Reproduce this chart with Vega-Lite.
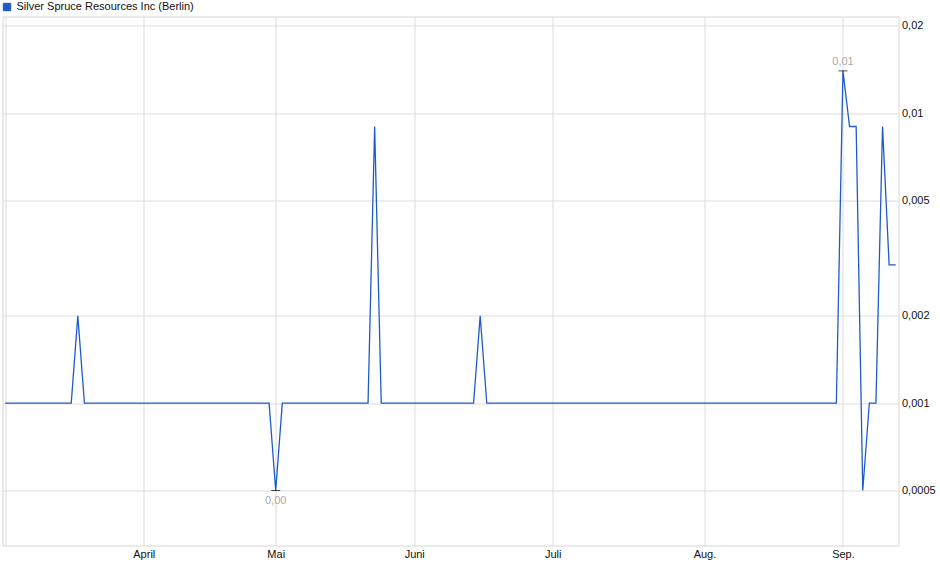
{
  "$schema": "https://vega.github.io/schema/vega-lite/v6.json",
  "autosize": "none",
  "width": 896,
  "height": 529,
  "padding": {"left": 2.5, "top": 16.5, "right": 41.5, "bottom": 33.5},
  "background": "white",
  "data": {
    "values": [
      {"d": "2025-03-03", "v": 0.001}, {"d": "2025-03-04", "v": 0.001}, {"d": "2025-03-05", "v": 0.001},
      {"d": "2025-03-06", "v": 0.001}, {"d": "2025-03-07", "v": 0.001}, {"d": "2025-03-10", "v": 0.001},
      {"d": "2025-03-11", "v": 0.001}, {"d": "2025-03-12", "v": 0.001}, {"d": "2025-03-13", "v": 0.001},
      {"d": "2025-03-14", "v": 0.001}, {"d": "2025-03-17", "v": 0.001}, {"d": "2025-03-18", "v": 0.002},
      {"d": "2025-03-19", "v": 0.001}, {"d": "2025-03-20", "v": 0.001}, {"d": "2025-03-21", "v": 0.001},
      {"d": "2025-03-24", "v": 0.001}, {"d": "2025-03-25", "v": 0.001}, {"d": "2025-03-26", "v": 0.001},
      {"d": "2025-03-27", "v": 0.001}, {"d": "2025-03-28", "v": 0.001}, {"d": "2025-03-31", "v": 0.001},
      {"d": "2025-04-01", "v": 0.001}, {"d": "2025-04-02", "v": 0.001}, {"d": "2025-04-03", "v": 0.001},
      {"d": "2025-04-04", "v": 0.001}, {"d": "2025-04-07", "v": 0.001}, {"d": "2025-04-08", "v": 0.001},
      {"d": "2025-04-09", "v": 0.001}, {"d": "2025-04-10", "v": 0.001}, {"d": "2025-04-11", "v": 0.001},
      {"d": "2025-04-14", "v": 0.001}, {"d": "2025-04-15", "v": 0.001}, {"d": "2025-04-16", "v": 0.001},
      {"d": "2025-04-17", "v": 0.001}, {"d": "2025-04-22", "v": 0.001}, {"d": "2025-04-23", "v": 0.001},
      {"d": "2025-04-24", "v": 0.001}, {"d": "2025-04-25", "v": 0.001}, {"d": "2025-04-28", "v": 0.001},
      {"d": "2025-04-29", "v": 0.001}, {"d": "2025-04-30", "v": 0.001},
      {"d": "2025-05-02", "v": 0.0005}, {"d": "2025-05-05", "v": 0.001}, {"d": "2025-05-06", "v": 0.001},
      {"d": "2025-05-07", "v": 0.001}, {"d": "2025-05-08", "v": 0.001}, {"d": "2025-05-09", "v": 0.001},
      {"d": "2025-05-12", "v": 0.001}, {"d": "2025-05-13", "v": 0.001}, {"d": "2025-05-14", "v": 0.001},
      {"d": "2025-05-15", "v": 0.001}, {"d": "2025-05-16", "v": 0.001}, {"d": "2025-05-19", "v": 0.001},
      {"d": "2025-05-20", "v": 0.001}, {"d": "2025-05-21", "v": 0.001}, {"d": "2025-05-22", "v": 0.001},
      {"d": "2025-05-23", "v": 0.009}, {"d": "2025-05-26", "v": 0.001}, {"d": "2025-05-27", "v": 0.001},
      {"d": "2025-05-28", "v": 0.001}, {"d": "2025-05-29", "v": 0.001}, {"d": "2025-05-30", "v": 0.001},
      {"d": "2025-06-02", "v": 0.001}, {"d": "2025-06-03", "v": 0.001}, {"d": "2025-06-04", "v": 0.001},
      {"d": "2025-06-05", "v": 0.001}, {"d": "2025-06-06", "v": 0.001}, {"d": "2025-06-09", "v": 0.001},
      {"d": "2025-06-10", "v": 0.001}, {"d": "2025-06-11", "v": 0.001}, {"d": "2025-06-12", "v": 0.001},
      {"d": "2025-06-13", "v": 0.001}, {"d": "2025-06-16", "v": 0.002}, {"d": "2025-06-17", "v": 0.001},
      {"d": "2025-06-18", "v": 0.001}, {"d": "2025-06-19", "v": 0.001}, {"d": "2025-06-20", "v": 0.001},
      {"d": "2025-06-23", "v": 0.001}, {"d": "2025-06-24", "v": 0.001}, {"d": "2025-06-25", "v": 0.001},
      {"d": "2025-06-26", "v": 0.001}, {"d": "2025-06-27", "v": 0.001}, {"d": "2025-06-30", "v": 0.001},
      {"d": "2025-07-01", "v": 0.001}, {"d": "2025-07-02", "v": 0.001}, {"d": "2025-07-03", "v": 0.001},
      {"d": "2025-07-04", "v": 0.001}, {"d": "2025-07-07", "v": 0.001}, {"d": "2025-07-08", "v": 0.001},
      {"d": "2025-07-09", "v": 0.001}, {"d": "2025-07-10", "v": 0.001}, {"d": "2025-07-11", "v": 0.001},
      {"d": "2025-07-14", "v": 0.001}, {"d": "2025-07-15", "v": 0.001}, {"d": "2025-07-16", "v": 0.001},
      {"d": "2025-07-17", "v": 0.001}, {"d": "2025-07-18", "v": 0.001}, {"d": "2025-07-21", "v": 0.001},
      {"d": "2025-07-22", "v": 0.001}, {"d": "2025-07-23", "v": 0.001}, {"d": "2025-07-24", "v": 0.001},
      {"d": "2025-07-25", "v": 0.001}, {"d": "2025-07-28", "v": 0.001}, {"d": "2025-07-29", "v": 0.001},
      {"d": "2025-07-30", "v": 0.001}, {"d": "2025-07-31", "v": 0.001},
      {"d": "2025-08-01", "v": 0.001}, {"d": "2025-08-04", "v": 0.001}, {"d": "2025-08-05", "v": 0.001},
      {"d": "2025-08-06", "v": 0.001}, {"d": "2025-08-07", "v": 0.001}, {"d": "2025-08-08", "v": 0.001},
      {"d": "2025-08-11", "v": 0.001}, {"d": "2025-08-12", "v": 0.001}, {"d": "2025-08-13", "v": 0.001},
      {"d": "2025-08-14", "v": 0.001}, {"d": "2025-08-15", "v": 0.001}, {"d": "2025-08-18", "v": 0.001},
      {"d": "2025-08-19", "v": 0.001}, {"d": "2025-08-20", "v": 0.001}, {"d": "2025-08-21", "v": 0.001},
      {"d": "2025-08-22", "v": 0.001}, {"d": "2025-08-25", "v": 0.001}, {"d": "2025-08-26", "v": 0.001},
      {"d": "2025-08-27", "v": 0.001}, {"d": "2025-08-28", "v": 0.001}, {"d": "2025-08-29", "v": 0.001},
      {"d": "2025-09-01", "v": 0.014}, {"d": "2025-09-02", "v": 0.009}, {"d": "2025-09-03", "v": 0.009},
      {"d": "2025-09-04", "v": 0.0005}, {"d": "2025-09-05", "v": 0.001}, {"d": "2025-09-08", "v": 0.001},
      {"d": "2025-09-09", "v": 0.009}, {"d": "2025-09-10", "v": 0.003}, {"d": "2025-09-11", "v": 0.003}
    ]
  },
  "encoding": {
    "x": {
      "field": "d",
      "type": "ordinal",
      "sort": null,
      "scale": {"type": "point", "padding": 0.42},
      "axis": {
        "title": null,
        "values": ["2025-03-03", "2025-04-01", "2025-05-02", "2025-06-02", "2025-07-01", "2025-08-01", "2025-09-01"],
        "labelExpr": "['', '', '', 'April', 'Mai', 'Juni', 'Juli', 'Aug.', 'Sep.', 'Okt.', 'Nov.', 'Dez.'][toNumber(substring(datum.value, 5, 7)) - 1]",
        "labelAngle": 0,
        "ticks": false,
        "domain": false,
        "grid": true,
        "labelPadding": 3
      }
    },
    "y": {
      "field": "v",
      "type": "quantitative",
      "scale": {"type": "log", "domain": [0.000323, 0.02156], "nice": false},
      "axis": {
        "title": null,
        "orient": "right",
        "values": [0.0005, 0.001, 0.002, 0.005, 0.01, 0.02],
        "format": "~g",
        "ticks": false,
        "domain": false,
        "labelPadding": 3
      }
    }
  },
  "layer": [
    {
      "mark": {"type": "line", "strokeWidth": 1.3, "interpolate": "linear"},
      "encoding": {
        "color": {
          "datum": "Silver Spruce Resources Inc (Berlin)",
          "scale": {"range": ["#1f5bc6"]},
          "legend": {
            "title": null,
            "orient": "none",
            "legendX": -1,
            "legendY": -15,
            "symbolType": "square",
            "symbolSize": 55,
            "symbolFillColor": "#1f5bc6",
            "symbolStrokeColor": "#163f8c",
            "symbolStrokeWidth": 1,
            "labelFontSize": 11,
            "labelColor": "#111111",
            "labelFont": "Liberation Sans",
            "labelLimit": 400,
            "labelOffset": 4,
            "padding": 0
          }
        }
      }
    },
    {
      "transform": [
        {"joinaggregate": [{"op": "max", "field": "v", "as": "mx"}]},
        {"filter": "datum.v == datum.mx"}
      ],
      "layer": [
        {"mark": {"type": "tick", "color": "#000000", "size": 9, "thickness": 1}},
        {
          "mark": {"type": "text", "dy": -9, "color": "#a9a9a9", "fontSize": 11, "font": "Liberation Sans"},
          "encoding": {"text": {"field": "v", "type": "quantitative", "format": ".2f"}}
        }
      ]
    },
    {
      "transform": [
        {"joinaggregate": [{"op": "min", "field": "v", "as": "mn"}]},
        {"filter": "datum.v == datum.mn"},
        {"window": [{"op": "row_number", "as": "rn"}]},
        {"filter": "datum.rn == 1"}
      ],
      "layer": [
        {"mark": {"type": "tick", "color": "#000000", "size": 9, "thickness": 1}},
        {
          "mark": {"type": "text", "dy": 11, "color": "#a9a9a9", "fontSize": 11, "font": "Liberation Sans"},
          "encoding": {"text": {"field": "v", "type": "quantitative", "format": ".2f"}}
        }
      ]
    }
  ],
  "config": {
    "locale": {"number": {"decimal": ",", "thousands": ".", "grouping": [3], "currency": ["", " €"]}},
    "view": {"stroke": "#d6d6d6"},
    "axis": {
      "gridColor": "#dddddd",
      "gridWidth": 1,
      "labelFont": "Liberation Sans",
      "labelFontSize": 11,
      "labelColor": "#111111"
    }
  }
}
